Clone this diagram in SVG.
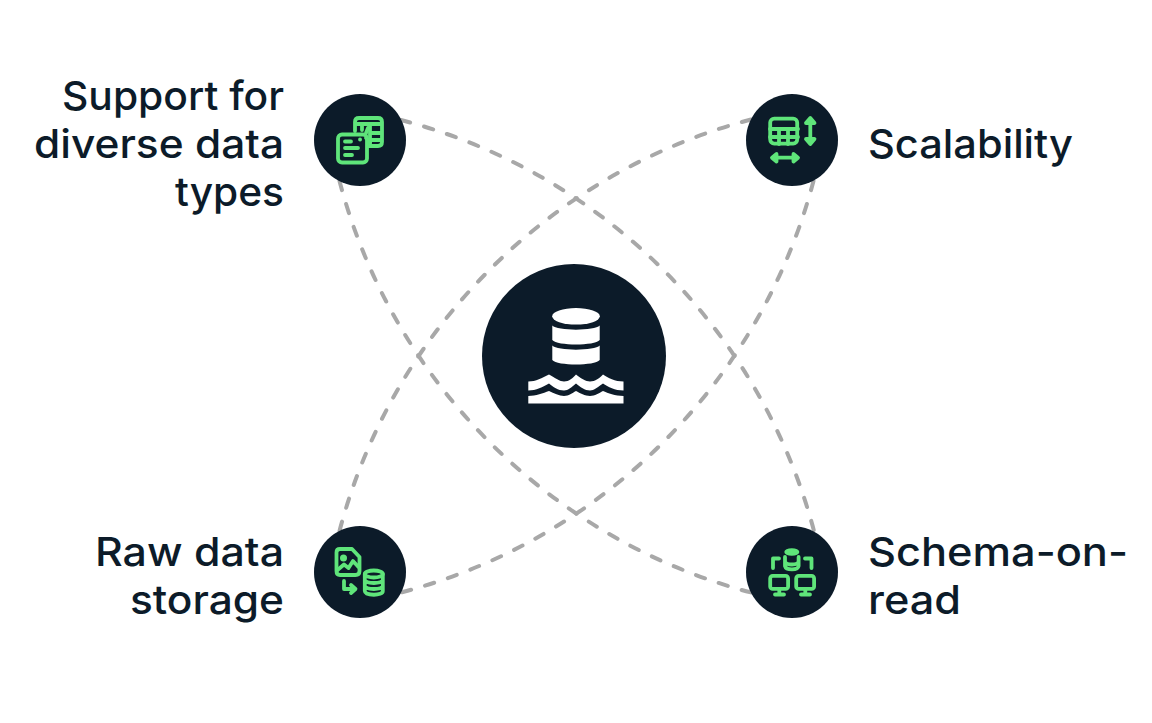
<svg xmlns="http://www.w3.org/2000/svg" width="1152" height="723" viewBox="0 0 1152 723">
<style>
.bg{fill:#0c1b29}
.arc{fill:none;stroke:#a8a8a8;stroke-width:4;stroke-dasharray:9.500 14.500;stroke-linecap:round}
.ic{fill:none;stroke:#5fe57a;stroke-width:3.800;stroke-linecap:round;stroke-linejoin:round}
.icf{fill:#5fe57a}
.lb{font-family:"Inter","Liberation Sans",sans-serif;font-size:40px;font-weight:450;fill:#0c1b29}
.e{text-anchor:end}
</style>
<rect width="1152" height="723" fill="#ffffff"/>
<g id="connectors">
<path class="arc" d="M401 120A578 578 0 0 1 814 531"/>
<path class="arc" d="M339.500 181A578 578 0 0 0 751 592.500"/>
<path class="arc" d="M751 119.500A578 578 0 0 0 339.500 531"/>
<path class="arc" d="M813.500 181A578 578 0 0 1 401 592.500"/>
</g>
<g id="center">
<circle class="bg" cx="574" cy="356" r="92"/>
<g fill="#fff">
<ellipse cx="576" cy="316.3" rx="23.8" ry="8.3"/>
<path d="M552.300 325.500C557 331 595 331 599.700 325.500V340C595 346 557 346 552.300 340Z"/>
<path d="M552.300 345.500C557 351 595 351 599.700 345.500V360C595 366 557 366 552.300 360Z"/>
<path d="M528.300 381.500C536 381.500 542 378 549 374.500C555 378 560 381.500 564 381.500C569 381.500 573 378 576 374.500C580 378 586 381.500 590 381.500C595 381.500 600 378 603 374.500C608 378 615 381.500 623.500 381.500V390.500C615 390.500 608 387 603 383.500C598 387 594 390.500 590 390.500C585 390.500 580 387 576 383.500C572 387 568 390.500 564 390.500C558 390.500 553 387 549 383.500C543 387 536 390.500 528.300 390.500Z"/>
<path d="M528.300 396C536 396 543 393 549 391C554 393 559 396 564 396C569 396 572 393 576 391C580 393 585 396 590 396C595 396 599 393 603 391C608 393 615 396 623.500 396V403.500H528.300Z"/>
</g>
</g>
<g id="node-diverse">
<circle class="bg" cx="360" cy="140" r="46"/>
<path class="ic" d="M355 131V122Q355 118 359 118H378Q382 118 382 122V142Q382 146 378 146H368M355 124H382M362 124V130M370 124V146M382 133H370M370 140H382"/>
<rect class="ic" x="338" y="134.500" width="29" height="28" rx="4"/>
<path class="ic" d="M345 141.500H351M345 148H358M345 155H352"/>
<path class="ic" d="M368 128L366 133M360 139.500H360.100M366 138L370 142"/>
</g>
<g id="node-scalability">
<circle class="bg" cx="792" cy="140" r="46"/>
<rect class="ic" x="770.200" y="118.600" width="27" height="25" rx="4"/>
<path class="ic" d="M770 129H798M770 137H798M779 129V144M788 129V144"/>
<path class="ic" d="M810.300 119V143M806 123L810.300 118L814.500 123ZM806 139L810.300 144L814.500 139Z"/>
<path class="ic" d="M773 157.700H797M776.500 154L772 157.700L776.500 161.500ZM793.500 154L798 157.700L793.500 161.500Z"/>
</g>
<g id="node-raw">
<circle class="bg" cx="360" cy="572" r="46"/>
<path class="ic" d="M340 549H352L359.500 557V571Q359.500 575 355.500 575H340Q336.500 575 336.500 571V552.500Q336.500 549 340 549Z"/>
<circle class="icf" cx="343.500" cy="558" r="3.500"/>
<path class="ic" d="M337.500 570L344 564.500L348.500 568L353 561L358.500 567"/>
<path class="ic" d="M344 581V589H354M351 585L355.500 589L351 593"/>
<ellipse class="ic" cx="373.800" cy="574" rx="9" ry="3.500"/>
<path class="ic" d="M364.800 574V591C365 596 383 596 382.800 591V574M364.800 580C365 584 383 584 382.800 580M364.800 586C365 590 383 590 382.800 586"/>
</g>
<g id="node-schema">
<circle class="bg" cx="792" cy="572" r="46"/>
<ellipse class="icf" cx="791.800" cy="552" rx="7.500" ry="3.800"/>
<path class="ic" d="M785 557V566C786 570.500 798 570.500 798.600 566V557M785 561.500C786 565.500 798 565.500 798.600 561.500"/>
<path class="ic" d="M773 568V558.500H779M805 558.500H811.500V568"/>
<rect class="ic" x="770.200" y="575.900" width="17.900" height="13" rx="2.500"/>
<rect class="ic" x="796.200" y="575.900" width="17.900" height="13" rx="2.500"/>
<path class="ic" d="M779.300 590V594M775 594.500H784M805.300 590V594M801 594.500H810"/>
</g>
<g id="labels">
<text class="lb e" x="284" y="110" textLength="222" lengthAdjust="spacingAndGlyphs">Support for</text>
<text class="lb e" x="284" y="158" textLength="250" lengthAdjust="spacingAndGlyphs">diverse data</text>
<text class="lb e" x="284" y="206" textLength="109" lengthAdjust="spacingAndGlyphs">types</text>
<text class="lb" x="868" y="158" textLength="205" lengthAdjust="spacingAndGlyphs">Scalability</text>
<text class="lb e" x="284" y="566" textLength="189" lengthAdjust="spacingAndGlyphs">Raw data</text>
<text class="lb e" x="284" y="614" textLength="154" lengthAdjust="spacingAndGlyphs">storage</text>
<text class="lb" x="868" y="566" textLength="260" lengthAdjust="spacingAndGlyphs">Schema-on-</text>
<text class="lb" x="868" y="614" textLength="93" lengthAdjust="spacingAndGlyphs">read</text>
</g>
</svg>
